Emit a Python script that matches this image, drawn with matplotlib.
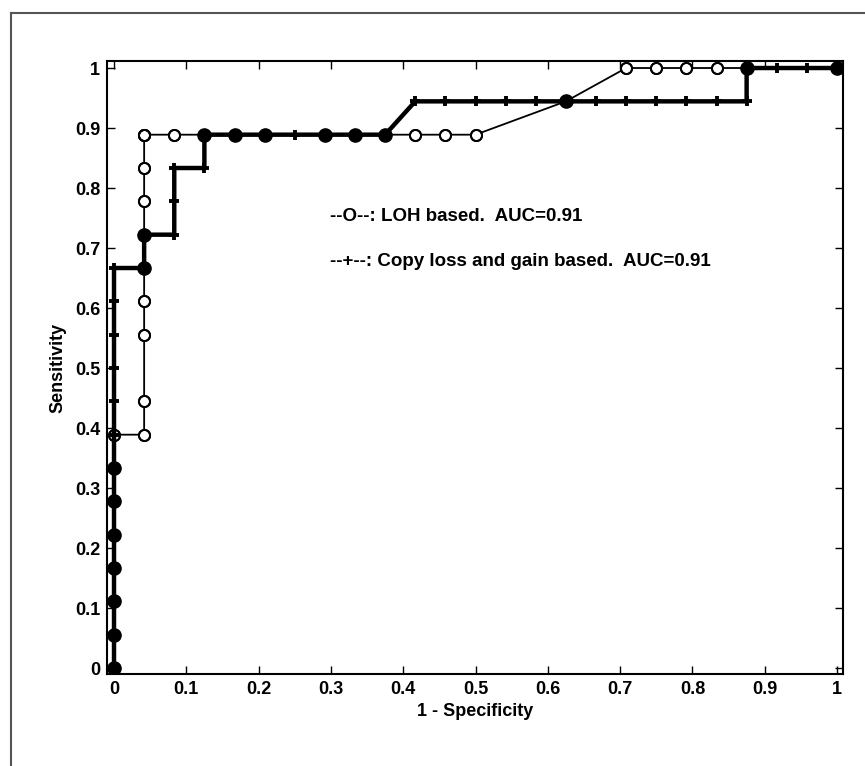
import matplotlib.pyplot as plt
from matplotlib.lines import Line2D

plt.rcParams['font.family'] = ['Liberation Sans', 'DejaVu Sans']
plt.rcParams['font.weight'] = 'bold'

# LOH based ROC points (1 - specificity, sensitivity)
loh_x = [0, 0, 0, 0, 0, 0, 0, 0,
         1/24, 1/24, 1/24, 1/24, 1/24, 1/24, 1/24, 1/24, 1/24, 1/24,
         2/24, 3/24, 4/24, 5/24, 7/24, 8/24, 9/24, 10/24, 11/24, 12/24,
         15/24, 17/24, 18/24, 19/24, 20/24, 21/24, 1]
loh_y = [0, 1/18, 2/18, 3/18, 4/18, 5/18, 6/18, 7/18,
         7/18, 8/18, 10/18, 11/18, 12/18, 13/18, 14/18, 15/18, 16/18, 16/18,
         16/18, 16/18, 16/18, 16/18, 16/18, 16/18, 16/18, 16/18, 16/18, 16/18,
         17/18, 1, 1, 1, 1, 1, 1]

# Copy loss and gain based ROC points
cn_x = [0] * 13 + [1/24, 1/24, 2/24, 2/24, 2/24, 3/24, 3/24,
        4/24, 5/24, 6/24, 7/24, 8/24, 9/24,
        10/24, 11/24, 12/24, 13/24, 14/24, 15/24, 16/24, 17/24, 18/24, 19/24, 20/24, 21/24,
        21/24, 22/24, 23/24, 1]
cn_y = [i / 18 for i in range(13)] + [12/18, 13/18, 13/18, 14/18, 15/18, 15/18, 16/18,
        16/18, 16/18, 16/18, 16/18, 16/18, 16/18,
        17/18, 17/18, 17/18, 17/18, 17/18, 17/18, 17/18, 17/18, 17/18, 17/18, 17/18, 17/18,
        1, 1, 1, 1]

# points shown as filled circles (both curves)
both_x = [0, 0, 0, 0, 0, 0, 0, 1/24, 1/24, 3/24, 4/24, 5/24, 7/24, 8/24, 9/24, 15/24, 21/24, 1]
both_y = [0, 1/18, 2/18, 3/18, 4/18, 5/18, 6/18, 12/18, 13/18,
          16/18, 16/18, 16/18, 16/18, 16/18, 16/18, 17/18, 1, 1]

fig = plt.figure(figsize=(8.65, 7.66), dpi=100)
ax = fig.add_axes([107/865, 1 - 674/766, 736/865, 613/766])

ax.plot(loh_x, loh_y, '-', color='black', lw=1.3, marker='o', ms=8,
        mfc='white', mec='black', mew=1.4, zorder=2)
ax.plot(cn_x, cn_y, '-', color='black', lw=3.2, marker='+', ms=7,
        mew=2.8, zorder=3)
ax.plot(loh_x, loh_y, 'none', marker='o', ms=8, mfc='none', mec='black',
        mew=1.4, zorder=4)
ax.plot(both_x, both_y, 'none', marker='o', ms=9.5, mfc='black', mec='black',
        zorder=5)

ax.set_xlim(-0.0097, 1.0083)
ax.set_ylim(-0.01, 1.0117)
ax.set_xticks([i / 10 for i in range(11)])
ax.set_xticklabels(['0', '0.1', '0.2', '0.3', '0.4', '0.5', '0.6', '0.7', '0.8', '0.9', '1'])
ax.set_yticks([i / 10 for i in range(11)])
ax.set_yticklabels(['0', '0.1', '0.2', '0.3', '0.4', '0.5', '0.6', '0.7', '0.8', '0.9', '1'])
ax.tick_params(direction='in', length=6, width=1, top=True, right=True,
               labelsize=13, pad=5)
for s in ax.spines.values():
    s.set_linewidth(1.5)

ax.set_xlabel('1 - Specificity', fontsize=13, fontweight='bold', labelpad=4)
ax.set_ylabel('Sensitivity', fontsize=13, fontweight='bold', labelpad=6)

ax.text(0.299, 0.753, '--O--: LOH based.  AUC=0.91', fontsize=13.5,
        fontweight='bold', va='center')
ax.text(0.299, 0.677, '--+--: Copy loss and gain based.  AUC=0.91', fontsize=13.5,
        fontweight='bold', va='center')

# partial frame around the figure
fig.add_artist(Line2D([11/865, 11/865], [0, 1 - 13/766], color='#555555', lw=1.5))
fig.add_artist(Line2D([11/865, 1], [1 - 13/766, 1 - 13/766], color='#555555', lw=1.5))

fig.savefig('out.png', dpi=100)
